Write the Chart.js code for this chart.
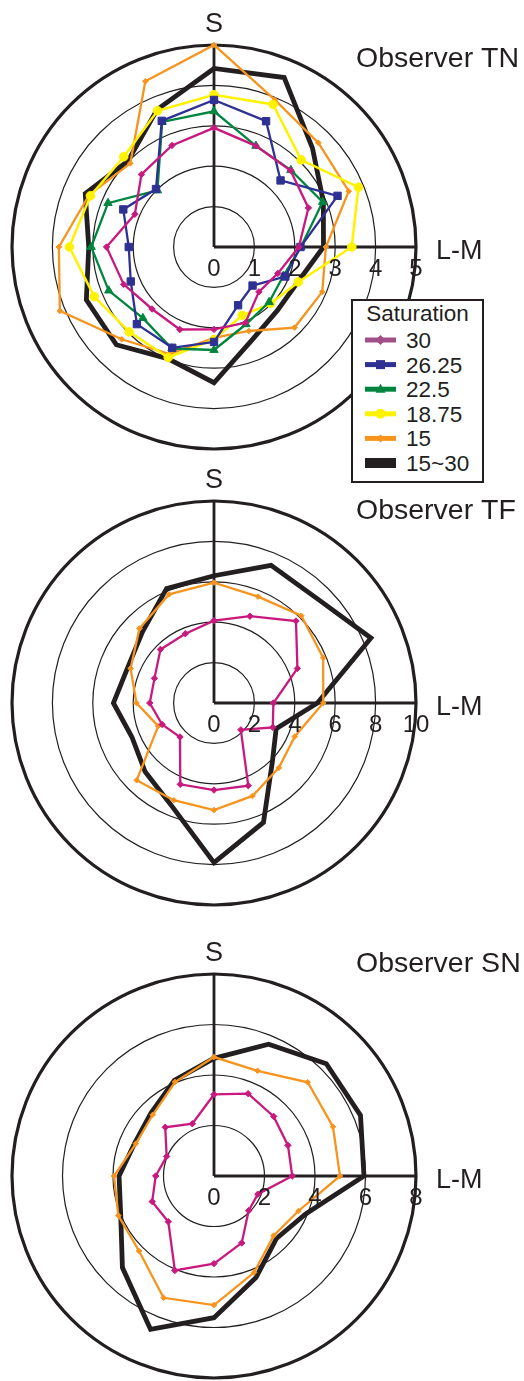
<!DOCTYPE html>
<html><head><meta charset="utf-8">
<script src="https://cdn.jsdelivr.net/npm/chart.js@4"></script>
<style>
html,body{margin:0;padding:0;background:#fff;width:524px;height:1381px;overflow:hidden;}
canvas{position:absolute;left:0;}
#legend{position:absolute;left:351px;top:299px;z-index:5;}
#legend text{font-family:"Liberation Sans",Arial,sans-serif;fill:#231f20;}
</style>
</head><body>
<canvas id="c1" width="524" height="460" style="top:0px"></canvas>
<canvas id="c2" width="524" height="450" style="top:460px"></canvas>
<canvas id="c3" width="524" height="471" style="top:910px"></canvas>
<svg id="legend" width="133" height="184" xmlns="http://www.w3.org/2000/svg">
  <rect x="1" y="1" width="131" height="182" fill="#fff" stroke="#231f20" stroke-width="2"/>
  <text x="66.5" y="22" font-size="22.5" text-anchor="middle">Saturation</text>
  <line x1="14" y1="41" x2="45" y2="41" stroke="#a24f88" stroke-width="5"/>
  <polygon points="29.5,36 34.5,41 29.5,46 24.5,41" fill="#a24f88"/>
  <text x="55" y="49" font-size="22.5">30</text>
  <line x1="14" y1="65.6" x2="45" y2="65.6" stroke="#2e3192" stroke-width="5"/>
  <rect x="25" y="61.1" width="9" height="9" fill="#2e3192"/>
  <text x="55" y="73.6" font-size="22.5">26.25</text>
  <line x1="14" y1="90.2" x2="45" y2="90.2" stroke="#00853f" stroke-width="5"/>
  <polygon points="29.5,84.7 34.5,93.7 24.5,93.7" fill="#00853f"/>
  <text x="55" y="98.2" font-size="22.5">22.5</text>
  <line x1="14" y1="114.8" x2="45" y2="114.8" stroke="#fff200" stroke-width="5"/>
  <circle cx="29.5" cy="114.8" r="5" fill="#fff200"/>
  <text x="55" y="122.8" font-size="22.5">18.75</text>
  <line x1="14" y1="139.4" x2="45" y2="139.4" stroke="#f7941d" stroke-width="5"/>
  <polygon points="29.5,135.4 33.5,139.4 29.5,143.4 25.5,139.4" fill="#f7941d"/>
  <text x="55" y="147.4" font-size="22.5">15</text>
  <rect x="14" y="159" width="31" height="10" fill="#231f20"/>
  <text x="55" y="172" font-size="22.5">15~30</text>
</svg>
<script>
// hue directions, counter-clockwise from the L-M axis
const hueAngles = ['0°','22.5°','45°','67.5°','90°','112.5°','135°','157.5°','180°','202.5°','225°','247.5°','270°','292.5°','315°','337.5°'];
const seriesNames = ['30','26.25','22.5','18.75','15','15~30'];

// Observer TN
const tnTicks = [0,1,2,3,4,5];
const tnSat30    = [2.10,2.53,2.68,2.71,2.95,2.72,2.54,2.12,2.66,2.42,2.17,2.21,2.04,2.03,1.57,1.71];
const tnSat2625  = [2.14,3.31,2.33,3.37,3.64,3.38,2.03,2.43,2.11,2.23,2.70,2.70,2.35,1.56,1.35,1.91];
const tnSat225   = [2.15,2.91,2.69,2.71,3.36,3.35,1.98,2.84,3.04,2.82,2.49,2.72,2.55,2.07,1.93,1.86];
const tnSat1875  = [3.41,3.87,3.05,3.82,3.77,3.65,3.16,3.31,3.58,3.21,2.97,2.96,2.29,1.83,1.98,2.26];
const tnSat15    = [2.77,3.61,3.65,3.94,5.00,4.44,2.93,3.35,3.84,4.13,3.23,2.87,2.25,2.25,2.82,2.90];
const tnSatAll   = [2.71,2.93,3.45,4.54,4.42,3.68,3.01,3.45,3.10,3.42,3.42,2.99,3.36,2.48,2.22,2.25];

// Observer TF
const tfTicks = [0,2,4,6,8,10];
const tfSat30  = [2.94,4.47,5.74,4.65,4.08,3.71,3.75,3.19,3.18,2.78,2.38,4.36,4.31,4.43,1.88,3.15];
const tfSat15  = [5.41,5.85,6.11,5.70,5.96,5.82,5.22,4.47,3.84,2.99,5.41,5.21,5.30,4.98,4.54,4.33];
const tfSatAll = [5.12,8.41,7.27,7.38,6.30,6.13,5.00,4.62,4.98,4.40,4.82,5.50,7.90,6.40,4.09,3.33];

// Observer SN
const snTicks = [0,2,4,6,8];
const snSat30  = [3.10,3.17,3.34,3.53,3.23,2.24,2.73,2.03,2.31,2.65,2.56,4.05,3.47,2.87,1.94,1.88];
const snSat15  = [4.99,5.10,5.25,4.51,4.71,4.03,3.43,3.35,3.96,4.10,4.20,5.22,5.11,4.14,3.34,3.62];
const snSatAll = [5.94,6.28,6.29,5.65,4.66,4.10,3.53,3.40,3.76,4.00,5.13,6.57,5.61,4.35,3.50,3.93];

const INK = '#231f20';
const FONT = '"Liberation Sans", Arial, sans-serif';
const styles = {
  '30':    {color:'#c8197f', pointStyle:'rectRot', radius:3.2, width:2.3},
  '26.25': {color:'#2e3192', pointStyle:'rect',    radius:5.2, width:2.3},
  '22.5':  {color:'#00853f', pointStyle:'triangle',radius:4.8, width:2.3},
  '18.75': {color:'#fff200', pointStyle:'circle',  radius:4.3, width:2.5},
  '15':    {color:'#f7941d', pointStyle:'rectRot', radius:2.8, width:2.3},
  '15~30': {color:INK,       pointStyle:'circle',  radius:0,   width:4.8}
};
// radar index runs clockwise from L-M axis (startAngle 90)
const toRadar = arr => arr.map((_, i) => arr[(arr.length - i) % arr.length]);
const S_INDEX = (hueAngles.length - 4) % hueAngles.length; // 90° hue

const textPlugin = {
  id: 'polarText',
  afterDraw(chart, args, opts) {
    const s = chart.scales.r, ctx = chart.ctx;
    ctx.save();
    ctx.fillStyle = INK;
    ctx.textBaseline = 'alphabetic';
    ctx.textAlign = 'center';
    ctx.font = '24px ' + FONT;
    opts.ticks.forEach(v => {
      const d = s.getDistanceFromCenterForValue(v);
      ctx.fillText(String(v), s.xCenter + d, s.yCenter + 29);
    });
    ctx.font = '27px ' + FONT;
    ctx.fillText('S', s.xCenter, s.yCenter - s.drawingArea - 13);
    ctx.textAlign = 'left';
    ctx.font = '27px ' + FONT;
    ctx.fillText('L-M', s.xCenter + s.drawingArea + 20, s.yCenter + 12);
    ctx.font = '28.5px ' + FONT;
    ctx.fillText(opts.title, 356, opts.titleY);
    ctx.restore();
  }
};

function makeChart(id, series, ticks, title, titleY, padding) {
  const maxV = ticks[ticks.length - 1];
  const datasets = series.map(([name, values]) => {
    const st = styles[name];
    return {
      label: name,
      data: toRadar(values),
      borderColor: st.color,
      backgroundColor: st.color,
      borderWidth: st.width,
      pointStyle: st.pointStyle,
      pointRadius: st.radius,
      pointBackgroundColor: st.color,
      pointBorderColor: st.color,
      pointBorderWidth: 1,
      fill: false,
      tension: 0
    };
  });
  return new Chart(document.getElementById(id), {
    type: 'radar',
    data: { labels: toRadar(hueAngles), datasets },
    options: {
      responsive: false,
      animation: false,
      devicePixelRatio: 1,
      layout: { padding },
      plugins: {
        legend: { display: false },
        tooltip: { enabled: false },
        polarText: { ticks, title, titleY }
      },
      scales: {
        r: {
          min: 0, max: maxV, startAngle: 90,
          ticks: { display: false, stepSize: ticks[1] - ticks[0] },
          grid: { circular: true, color: INK,
                  lineWidth: ctx => (ctx.tick && ctx.tick.value === maxV) ? 3.2 : 1.2 },
          angleLines: { color: INK,
                  lineWidth: ctx => (ctx.index === 0 || ctx.index === S_INDEX) ? 2.8 : 0 },
          pointLabels: { display: false }
        }
      }
    },
    plugins: [textPlugin]
  });
}

makeChart('c1', [
  ['30', tnSat30], ['26.25', tnSat2625], ['22.5', tnSat225],
  ['18.75', tnSat1875], ['15', tnSat15], ['15~30', tnSatAll]
], tnTicks, 'Observer TN', 67, {left:12, top:45, right:108, bottom:11});

makeChart('c2', [
  ['30', tfSat30], ['15', tfSat15], ['15~30', tfSatAll]
], tfTicks, 'Observer TF', 59, {left:12, top:41, right:108, bottom:5});

makeChart('c3', [
  ['30', snSat30], ['15', snSat15], ['15~30', snSatAll]
], snTicks, 'Observer SN', 62, {left:12, top:64, right:108, bottom:3});
</script>
</body></html>
